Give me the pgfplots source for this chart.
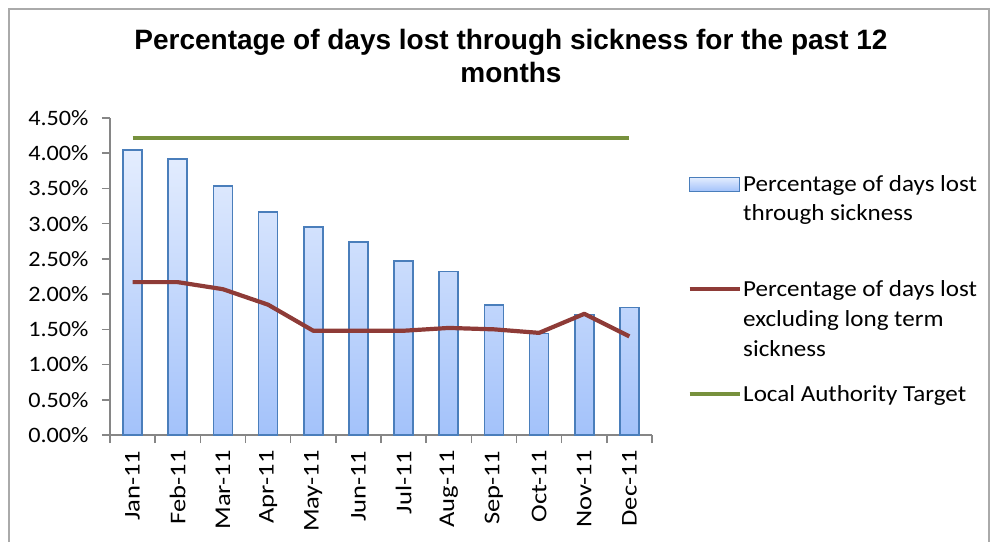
\documentclass[border=0pt]{standalone}
\usepackage{pgfplots}
\pgfplotsset{compat=1.18}
\usepackage{fontspec}
\setmainfont{Carlito}
\newfontfamily\arialfont{Liberation Sans}
\newfontfamily\ylabfont[FakeStretch=1.1]{Carlito}
\newfontfamily\xlabfont[FakeStretch=1.18]{Carlito}
\newfontfamily\legfont[FakeStretch=1.09]{Carlito}
\definecolor{barborder}{HTML}{4A7EBB}
\definecolor{bartop}{HTML}{E4EDFE}
\definecolor{barbot}{HTML}{A3C2FA}
\definecolor{redline}{HTML}{8E3B37}
\definecolor{greenline}{HTML}{77913D}
\definecolor{axisgray}{HTML}{868686}
\newcommand{\lr}[1]{\rule[-6pt]{0pt}{#1pt}}
\begin{document}
\begin{tikzpicture}[x=1pt,y=1pt]
\path[use as bounding box] (0,0) rectangle (994,-542);
\draw[axisgray!70, line width=1.5pt] (9,-542) -- (9,-9) -- (989,-9) -- (989,-542);
\node[font=\arialfont\bfseries\fontsize{28}{33}\selectfont, align=center] at (511,-56) {Percentage of days lost through sickness for the past 12\\months};
\begin{axis}[at={(110pt,-435pt)}, anchor=south west, scale only axis,
  width=542pt, height=317pt,
  xmin=-0.5, xmax=11.5, ymin=0, ymax=4.5,
  axis x line=bottom, axis y line=left,
  axis line style={axisgray, line width=1.5pt, -},
  tick style={axisgray, line width=1.5pt},
  major tick length=8pt, tick align=outside,
  ytick={0,0.5,1,1.5,2,2.5,3,3.5,4,4.5},
  yticklabel={\pgfmathprintnumber[fixed,fixed zerofill,precision=2,assume math mode=true]{\tick}\%},
  yticklabel style={font=\ylabfont\fontsize{22}{26}\selectfont, xshift=-10pt},
  xtick={-0.5,0.5,1.5,2.5,3.5,4.5,5.5,6.5,7.5,8.5,9.5,10.5,11.5},
  xticklabels={},
  extra x ticks={0,1,2,3,4,5,6,7,8,9,10,11},
  extra x tick labels={Jan-11,Feb-11,Mar-11,Apr-11,May-11,Jun-11,Jul-11,Aug-11,Sep-11,Oct-11,Nov-11,Dec-11},
  extra x tick style={major tick length=0pt, tick style={draw=none},
    xticklabel style={rotate=90, anchor=east, font=\xlabfont\fontsize{22.5}{26}\selectfont, xshift=-12pt}},
  legend style={at={(1.06,0.831)}, anchor=north west, draw=none, fill=none,
    font=\legfont\fontsize{23}{29.5}\selectfont,
    nodes={inner sep=1.5pt, anchor=base west},
    row sep=0pt},
  legend cell align=left,
  clip=false,
]
\addplot[ybar, bar width=19pt, draw=barborder, line width=1.8pt, top color=bartop, bottom color=barbot,
  legend image code/.code={\draw[barborder, line width=1.5pt, top color=bartop, bottom color=barbot] (0pt,0pt) rectangle (50pt,14pt);}]
  coordinates {(0,4.05) (1,3.92) (2,3.54) (3,3.17) (4,2.95) (5,2.74) (6,2.47) (7,2.32) (8,1.84) (9,1.44) (10,1.71) (11,1.81)};
\addlegendentry{\lr{20}Percentage of days lost}
\addlegendimage{empty legend}
\addlegendentry{\lr{31}through sickness}
\addplot[redline, line width=4.2pt, line join=round,
  legend image code/.code={\draw[redline, line width=4pt] (0pt,7pt) -- (50pt,7pt);}]
  coordinates {(0,2.17) (1,2.17) (2,2.07) (3,1.85) (4,1.48) (5,1.48) (6,1.48) (7,1.52) (8,1.50) (9,1.45) (10,1.72) (11,1.40)};
\addlegendentry{\lr{77}Percentage of days lost}
\addlegendimage{empty legend}
\addlegendentry{\lr{31.5}excluding long term}
\addlegendimage{empty legend}
\addlegendentry{\lr{32}sickness}
\addplot[greenline, line width=4pt,
  legend image code/.code={\draw[greenline, line width=4pt] (0pt,7pt) -- (50pt,7pt);}]
  coordinates {(0,4.22) (11,4.22)};
\addlegendentry{\lr{46}Local Authority Target}
\end{axis}
\end{tikzpicture}
\end{document}
